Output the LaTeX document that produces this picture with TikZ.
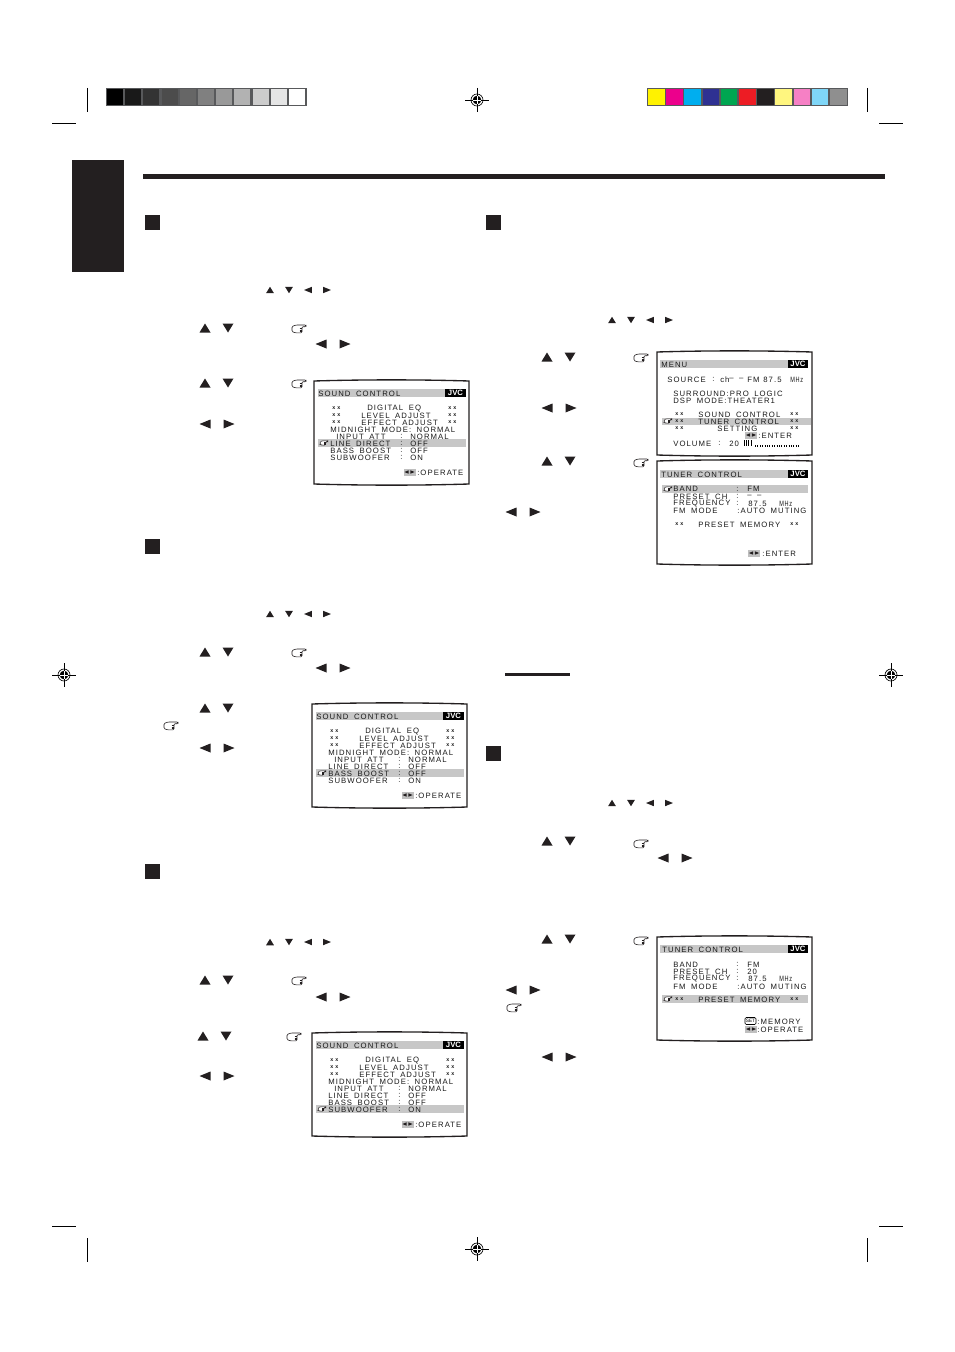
\documentclass[tikz,border=0pt]{standalone}
\usepackage{fontspec}
\setmainfont{Liberation Sans}
\newfontfamily\osdfont[LetterSpace=14,WordSpace=1.7]{Liberation Sans}
\usetikzlibrary{positioning}
\definecolor{inkblack}{HTML}{231F20}
\definecolor{framegray}{HTML}{58595B}
\newcommand\osdmark{x\hspace{1.6pt}x}
\newcommand\mhz{\scalebox{0.72}[1]{MHz}}
\tikzset{
  osd/.style={anchor=west,inner sep=0pt,yshift=-0.4pt,font=\osdfont\fontsize{5.8}{6}\selectfont,text=black!90},
  osdsym/.style={osd,font=\bfseries\fontsize{4}{4}\selectfont},
  jvclogo/.style={fill=black,text=white,inner sep=0pt,minimum width=15.6pt,minimum height=6pt,
    font=\bfseries\fontsize{5.8}{6}\selectfont},
  osdbar/.style={fill=black!22},
  scrframe/.style={draw=inkblack,line width=1pt},
  cropmark/.style={draw=black,line width=0.6pt},
  pics/upTri/.style={code={\fill[inkblack] (0,-4.5)--(5.5,4.5)--(-5.5,4.5)--cycle;}},
  pics/downTri/.style={code={\fill[inkblack] (0,4.5)--(5.5,-4.5)--(-5.5,-4.5)--cycle;}},
  pics/leftTri/.style={code={\fill[inkblack] (-5.5,0)--(5.5,-4.5)--(5.5,4.5)--cycle;}},
  pics/rightTri/.style={code={\fill[inkblack] (5.5,0)--(-5.5,-4.5)--(-5.5,4.5)--cycle;}},
  pics/hand/.style={code={\draw[inkblack,line width=#1,fill=white,rounded corners=0.8pt]
    (-7,-2.5)--(-3,-4)--(7,-4)--(7,-2.3)--(3,-2.3)--(3,3.8)--(-4,3.8)--(-7,2.5)--cycle;
    \draw[inkblack,line width=0.6*#1] (0.5,-0.8)--(3,-0.8) (0.5,0.7)--(3,0.7) (0.5,2.2)--(3,2.2);}},
  pics/hand/.default=0.45pt,
  pics/regmark/.style={code={\draw[black,line width=0.5pt] (0,0) circle (6);
    \fill[black] (0,0) circle (4.3);
    \draw[white,line width=0.5pt] (-4.3,0)--(4.3,0) (0,-4.3)--(0,4.3);
    \draw[black,line width=0.5pt] (-12,0)--(-4.3,0) (4.3,0)--(12,0) (0,-12)--(0,-4.3) (0,4.3)--(0,12);}}
}
% arrows on the page
\newcommand\udpair[2]{\pic at (#1,#2) {upTri}; \pic at (#1+23,#2) {downTri};}
\newcommand\lrpair[2]{\pic at (#1,#2) {leftTri}; \pic at (#1+24,#2) {rightTri};}
\newcommand\arrowrow[2]{\pic[scale=0.72] at (#1,#2) {upTri}; \pic[scale=0.72] at (#1+19,#2) {downTri};
  \pic[scale=0.72] at (#1+38,#2) {leftTri}; \pic[scale=0.72] at (#1+57,#2) {rightTri};}
\newcommand\bigsquare[2]{\fill[inkblack] (#1-0.5,#2) rectangle (#1+14.5,#2+14.5);}
% curved tube outline
\newcommand\scrbox[2]{\draw[scrframe] (#1,#2) .. controls (#1+50,#2-1.5) and (#1+105,#2-1.5) .. (#1+155,#2)
  -- (#1+155,#2+103) .. controls (#1+105,#2+104.5) and (#1+50,#2+104.5) .. (#1,#2+103) -- cycle;}
\newcommand\osdarrows[2]{\fill[black!25] (#1,#2-3.5) rectangle (#1+12,#2+3.5);
  \pic[scale=0.38] at (#1+3,#2) {leftTri}; \pic[scale=0.38] at (#1+9,#2) {rightTri};}
\newcommand\soundscreen[5]{%
  \begin{scope}[shift={(#2,#3)},name prefix=#1-]
    \scrbox{314}{381}
    \fill[osdbar] (318,389) rectangle (466,397);
    \fill[osdbar] (318,#4-4) rectangle (466,#4+4);
    \node[jvclogo] (logo) at (455.5,393) {JVC};
    \foreach \tx/\ty/\tt [count=\i] in {318/393/SOUND CONTROL,367/408/DIGITAL EQ,361/415/LEVEL ADJUST,
      361/422/EFFECT ADJUST,330/429/MIDNIGHT MODE: NORMAL,336/436/INPUT ATT,400/436/:,410/436/NORMAL,
      330/443/LINE DIRECT,400/443/:,410/443/OFF,330/450/BASS BOOST,400/450/:,410/450/OFF,
      330/457/SUBWOOFER,400/457/:,410/457/ON,417/472/:OPERATE}
      {\node[osd] (line\i) at (\tx,\ty) {\tt};}
    \foreach \ty in {408,415,422}
      {\node[osdsym] (markl\ty) at (332,\ty) {\osdmark}; \node[osdsym] (markr\ty) at (448,\ty) {\osdmark};}
    \osdarrows{403.5}{472}
    \pic[scale=0.55] at (324,#4) {hand=0.35pt};
  \end{scope}
  \pic at (#5) {hand};}

\begin{document}
\begin{tikzpicture}[x=0.75pt,y=-0.75pt]
\useasboundingbox (0,0) rectangle (954,1352);
\fill[white] (0,0) rectangle (954,1352);
% colour bars
\fill[framegray] (106,88) rectangle (306.5,106);
\foreach \g [count=\i from 0] in {0,10,20,30,40,50,60,70,80,90,100}
  {\fill[white!\g!black] (107+18.2*\i,89) rectangle (123+18.2*\i,104.7);}
\fill[framegray] (647,88) rectangle (848,106);
\foreach \c [count=\i from 0] in {FFF200,EC008C,00AEEF,2E3192,00A651,ED1C24,231F20,FFF67F,F680C5,7FD6F7,8F8F8F}
  {\definecolor{patch}{HTML}{\c}\fill[patch] (648+18.2*\i,89) rectangle (664.5+18.2*\i,104.7);}
% crop marks
\draw[cropmark] (87,88)--(87,112) (867,88)--(867,112) (87,1238)--(87,1262) (867,1238)--(867,1262);
\draw[cropmark] (52,123)--(76,123) (879,123)--(903,123) (52,1226)--(76,1226) (879,1226)--(903,1226);
\pic at (477,100) {regmark};
\pic at (477,1249) {regmark};
\pic at (64,675) {regmark};
\pic at (891,675) {regmark};
% header
\fill[inkblack] (72,160) rectangle (124,272);
\fill[inkblack] (143,174) rectangle (885,179);
\bigsquare{145}{215}
\bigsquare{145}{539}
\bigsquare{145}{864}
\bigsquare{486}{215}
\bigsquare{486}{746}
\fill[inkblack] (505,672.5) rectangle (570,675.5);
% left column
\arrowrow{270}{290}
\udpair{205}{328} \pic at (299,329) {hand}; \lrpair{321}{344}
\udpair{205}{383}
\lrpair{205}{424}
\arrowrow{270}{614}
\udpair{205}{652} \lrpair{321}{668}
\udpair{205}{708}
\lrpair{205}{748}
\arrowrow{270}{942}
\udpair{205}{980} \lrpair{321}{997}
\udpair{203}{1036}
\lrpair{205}{1076}
\soundscreen{soundA}{0}{0}{443}{299,384}
\soundscreen{soundB}{-2}{323}{450}{299,653}
\soundscreen{soundC}{-2}{652}{457}{299,981}
\pic at (171,726) {hand};
\pic at (294,1037) {hand};
% right column
\arrowrow{612}{320}
\udpair{547}{357} \pic at (641,358) {hand};
\lrpair{547}{408}
\udpair{547}{461} \pic at (641,463) {hand};
\lrpair{511}{512}
\arrowrow{612}{803}
\udpair{547}{841} \pic at (641,844) {hand}; \lrpair{663}{858}
\udpair{547}{939} \pic at (641,941) {hand};
\lrpair{511}{990} \pic at (514,1008) {hand};
\lrpair{547}{1057}
% menu screen
\scrbox{657}{352}
\fill[osdbar] (660,360) rectangle (808,368);
\fill[osdbar] (662,418) rectangle (811,425);
\node[jvclogo] (menulogo) at (798,364) {JVC};
\foreach \tx/\ty/\tt [count=\i] in {661/364/MENU,667/379/SOURCE,712/379/:,720/379/ch,729/379/– –,747/379/FM,763/379/87.5,790/379/\mhz,
  673/393/SURROUND:PRO LOGIC,673/400/DSP MODE:THEATER1,698/414/SOUND CONTROL,698/421/TUNER CONTROL,717/428/SETTING,
  758/435/:ENTER,673/443/VOLUME,718/443/:,729/443/20}
  {\node[osd] (menu\i) at (\tx,\ty) {\tt};}
\foreach \ty in {414,421,428}
  {\node[osdsym] (menul\ty) at (675,\ty) {\osdmark}; \node[osdsym] (menur\ty) at (790,\ty) {\osdmark};}
\osdarrows{745}{435}
\pic[scale=0.55] at (668,421) {hand=0.35pt};
\foreach \i in {0,...,3} {\draw[black,line width=0.6pt] (744+2.4*\i,440)--(744+2.4*\i,446);}
\draw[black,line width=0.8pt,densely dotted] (755,446)--(800,446);
% tuner screen
\scrbox{657}{461}
\fill[osdbar] (660,470) rectangle (808,478);
\fill[osdbar] (662,485) rectangle (808,493);
\node[jvclogo] (tunerlogo) at (798,474) {JVC};
\foreach \tx/\ty/\tt [count=\i] in {661/474/TUNER CONTROL,673/488.5/BAND,736/488.5/:,747/488.5/FM,673/496/PRESET CH,736/496/:,747/496/– –,
  673/503/FREQUENCY,736/503/:,748/503/87.5,779/503/\mhz,673/510/FM MODE,737/510/:AUTO MUTING,698/524/PRESET MEMORY,762/553/:ENTER}
  {\node[osd] (tuner\i) at (\tx,\ty) {\tt};}
\node[osdsym] (tunerl) at (675,524) {\osdmark};
\node[osdsym] (tunerr) at (790,524) {\osdmark};
\osdarrows{748}{553}
\pic[scale=0.55] at (668,489) {hand=0.35pt};
% preset screen
\scrbox{657}{937}
\fill[osdbar] (660,945) rectangle (808,953);
\fill[osdbar] (662,995) rectangle (808,1003);
\node[jvclogo] (presetlogo) at (798,949) {JVC};
\foreach \tx/\ty/\tt [count=\i] in {662/949/TUNER CONTROL,673/964/BAND,736/964/:,747/964/FM,673/971/PRESET CH,736/971/:,747/971/20,
  673/978/FREQUENCY,736/978/:,748/978/87.5,779/978/\mhz,673/986/FM MODE,737/986/:AUTO MUT\hspace{1pt}ING,698/999/PRESET MEMORY,
  757/1021/:MEMORY,757/1029/:OPERATE}
  {\node[osd] (preset\i) at (\tx,\ty) {\tt};}
\node[osdsym] (presetl) at (675,999) {\osdmark};
\node[osdsym] (presetr) at (790,999) {\osdmark};
\draw[black,line width=0.4pt,rounded corners=1pt] (745,1017.5) rectangle (756,1024.5);
\node[inner sep=0pt,font=\fontsize{3.6}{4}\selectfont] (presetset) at (750.5,1021) {SET};
\osdarrows{745}{1029}
\pic[scale=0.55] at (668,999) {hand=0.35pt};
\end{tikzpicture}
\end{document}
